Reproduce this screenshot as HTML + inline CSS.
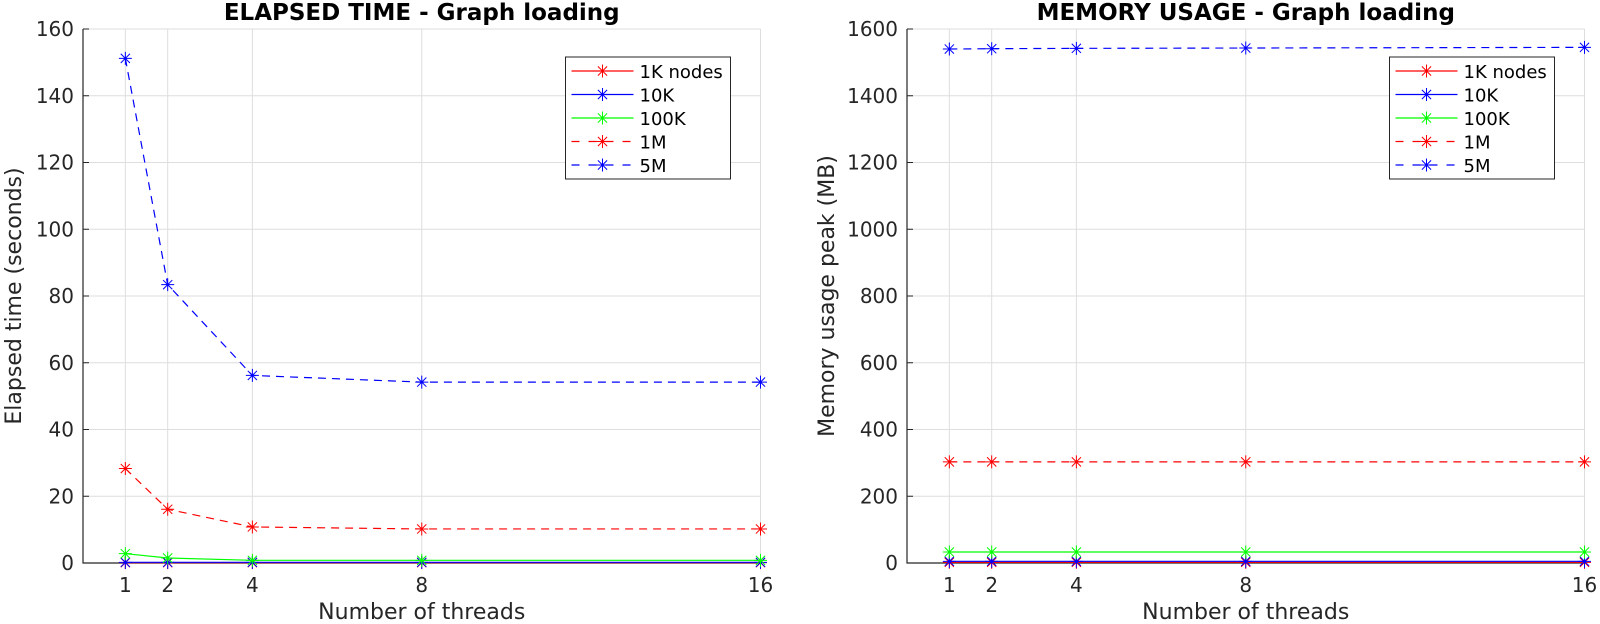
<!DOCTYPE html>
<html><head><meta charset="utf-8"><style>
body{margin:0;background:#fff}
svg{display:block;font-family:"DejaVu Sans","Liberation Sans",sans-serif}
</style></head><body>
<svg id="c" width="1600" height="624" viewBox="0 0 1600 624" xmlns="http://www.w3.org/2000/svg"></svg>
<script>
const threads = [1, 2, 4, 8, 16];
const seriesNames = ["1K nodes", "10K", "100K", "1M", "5M"];
const timeK1 = [0.1, 0.1, 0.1, 0.1, 0.1];
const timeK10 = [0.2, 0.2, 0.2, 0.2, 0.2];
const timeK100 = [2.8, 1.5, 0.8, 0.8, 0.8];
const timeM1 = [28.3, 16.1, 10.8, 10.2, 10.2];
const timeM5 = [151.2, 83.4, 56.2, 54.2, 54.2];
const memK1 = [2, 2, 2, 2, 2];
const memK10 = [5, 5, 5, 5, 5];
const memK100 = [33, 33, 33, 33, 33];
const memM1 = [303, 303, 303, 303, 303];
const memM5 = [1540, 1541, 1542, 1543, 1545];
const timeTicks = [0, 20, 40, 60, 80, 100, 120, 140, 160];
const memTicks = [0, 200, 400, 600, 800, 1000, 1200, 1400, 1600];

const NS = "http://www.w3.org/2000/svg";
const svg = document.getElementById("c");
function mk(tag, attrs, parent) {
  const e = document.createElementNS(NS, tag);
  for (const k in attrs) e.setAttribute(k, attrs[k]);
  (parent || svg).appendChild(e);
  return e;
}
const colors = ["#ff0000", "#0000ff", "#00ff00", "#ff0000", "#0000ff"];
const dashes = ["", "", "", "8,6", "8,6"];

function star(g, x, y, c) {
  const r = 6.5, d = 4.6;
  mk("path", {d: `M${x-r},${y}H${x+r}M${x},${y-r}V${y+r}M${x-d},${y-d}L${x+d},${y+d}M${x-d},${y+d}L${x+d},${y-d}`, stroke: c, "stroke-width": 1, fill: "none"}, g);
}

function plot(cfg) {
  const L = cfg.left, R = cfg.left + 677.5, T = 29, B = 563;
  const xs = v => L + v / 16 * (R - L);
  const ys = v => B - v / cfg.ymax * (B - T);
  const g = mk("g", {});
  
  
  cfg.ticks.forEach(t => { if (t > 0) mk("line", {x1: L, x2: R, y1: ys(t), y2: ys(t), stroke: "#dedede", "stroke-width": 1}, g); });
  threads.forEach(t => mk("line", {x1: xs(t), x2: xs(t), y1: T, y2: B, stroke: "#dedede", "stroke-width": 1}, g));
  mk("line", {x1: L, x2: R, y1: T, y2: T, stroke: "#dedede"}, g);
  mk("line", {x1: R, x2: R, y1: T, y2: B, stroke: "#dedede"}, g);
  const ax = mk("path", {d: `M${L},${T}V${B}H${R}`, stroke: "#262626", fill: "none", "stroke-width": 1.2}, g);
  
  
  cfg.ticks.forEach(t => {
    mk("line", {x1: L, x2: L + 6, y1: ys(t), y2: ys(t), stroke: "#262626"}, g);
    const tx = mk("text", {x: L - 9, y: ys(t) + 7, "text-anchor": "end", "font-size": 20, fill: "#262626"}, g);
    tx.textContent = t;
    
    
  });
  threads.forEach(t => {
    mk("line", {x1: xs(t), x2: xs(t), y1: B, y2: B - 6, stroke: "#262626"}, g);
    const tx = mk("text", {x: xs(t), y: 592, "text-anchor": "middle", "font-size": 20, fill: "#262626"}, g);
    tx.textContent = t;
    
    
  });
  cfg.series.forEach((s, i) => {
    const sg = mk("g", {}, g);
    
    
    const pts = s.map((v, j) => xs(threads[j]) + "," + ys(v)).join(" ");
    const pl = mk("polyline", {points: pts, fill: "none", stroke: colors[i], "stroke-width": 1.2}, sg);
    if (dashes[i]) pl.setAttribute("stroke-dasharray", dashes[i]);
    s.forEach((v, j) => star(sg, xs(threads[j]), ys(v), colors[i]));
  });
  const ti = mk("text", {x: (L + R) / 2, y: 20, "text-anchor": "middle", "font-size": 23, "font-weight": "bold", fill: "#000"}, g);
  ti.textContent = cfg.title;
  
  
  const xl = mk("text", {x: (L + R) / 2, y: 619, "text-anchor": "middle", "font-size": 22, fill: "#262626"}, g);
  xl.textContent = "Number of threads";
  
  
  const yx = cfg.ylx;
  const yl = mk("text", {x: yx, y: (T + B) / 2, "text-anchor": "middle", "font-size": 22, fill: "#262626", transform: `rotate(-90 ${yx} ${(T + B) / 2})`}, g);
  yl.textContent = cfg.ylabel;
  
  
  const lx = R - 195, ly = 57;
  const lg = mk("g", {}, g);
  
  
  mk("rect", {x: lx, y: ly, width: 165, height: 122, fill: "#fff", stroke: "#262626", "stroke-width": 1}, lg);
  seriesNames.forEach((n, i) => {
    const yy = ly + 14 + i * 23.5;
    const e = mk("g", {}, lg);
    
    
    const ln = mk("line", {x1: lx + 6, x2: lx + 68, y1: yy, y2: yy, stroke: colors[i], "stroke-width": 1.2}, e);
    if (dashes[i]) ln.setAttribute("stroke-dasharray", "8,9");
    star(e, lx + 37, yy, colors[i]);
    const t = mk("text", {x: lx + 74, y: yy + 7, "font-size": 18, fill: "#000"}, e);
    t.textContent = n;
  });
}
plot({name: "elapsed-time-plot", left: 83, ymax: 160, ticks: timeTicks, series: [timeK1, timeK10, timeK100, timeM1, timeM5], title: "ELAPSED TIME - Graph loading", ylabel: "Elapsed time (seconds)", ylx: 21});
plot({name: "memory-usage-plot", left: 907, ymax: 1600, ticks: memTicks, series: [memK1, memK10, memK100, memM1, memM5], title: "MEMORY USAGE - Graph loading", ylabel: "Memory usage peak (MB)", ylx: 834});
</script>
</body></html>
